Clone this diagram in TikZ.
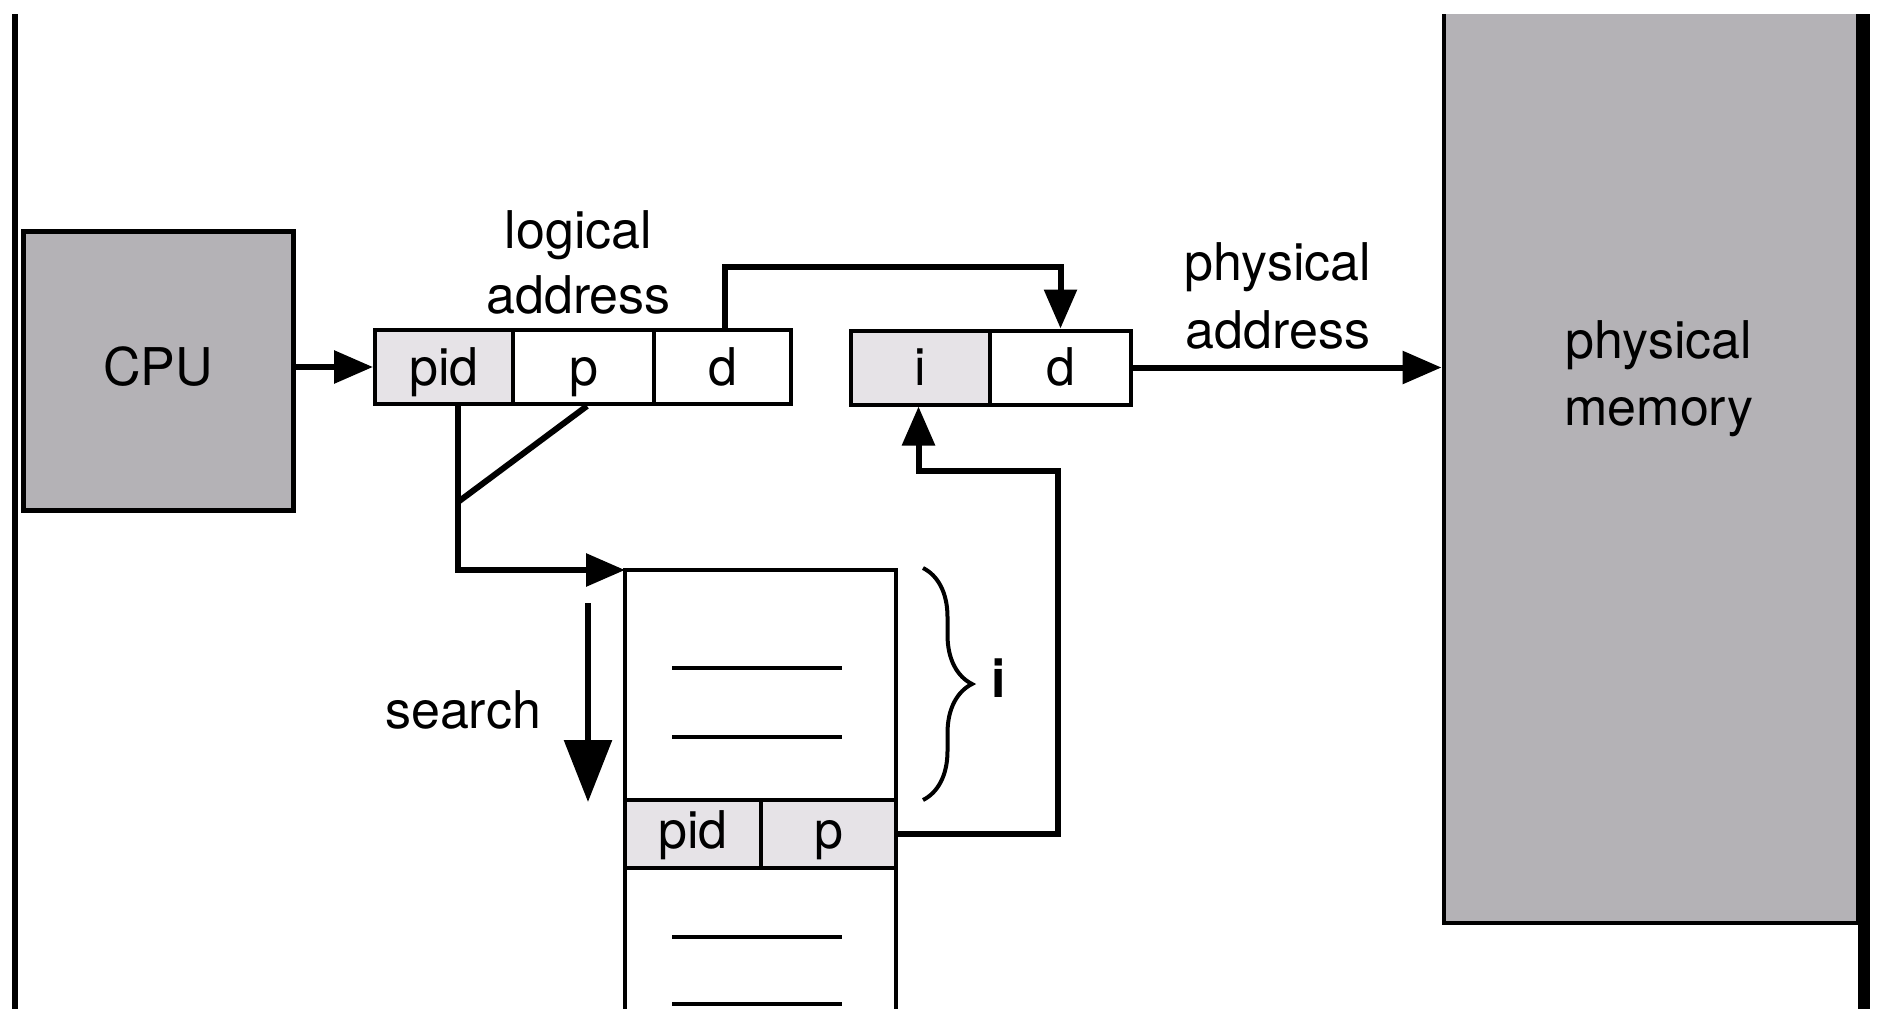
\documentclass[tikz,border=0pt]{standalone}
\usepackage{fontspec}
\setmainfont{TeX Gyre Heros}
\usetikzlibrary{arrows.meta,decorations.pathreplacing,calc}
\definecolor{boxgray}{RGB}{180,178,182}
\definecolor{cellgray}{RGB}{230,227,231}
\begin{document}
\begin{tikzpicture}[x=1pt,y=-1pt,
  every node/.style={font=\fontsize{52}{54}\selectfont, inner sep=0pt},
  bigbox/.style={draw, line width=5pt, fill=boxgray},
  cell/.style={draw, line width=4pt, minimum height=74pt, text height=36pt, text depth=0pt},
  rowcell/.style={draw, line width=4pt, fill=cellgray, minimum height=68pt, text height=28pt, text depth=0pt},
  conn/.style={line width=6pt, -{Triangle[length=39pt,width=32pt]}},
  wire/.style={line width=6pt},
  thin/.style={line width=4pt},
  lbl/.style={anchor=base},
]
\useasboundingbox (0,0) rectangle (1886,1020);

% clipped frame elements
\begin{scope}
  \clip (0,14) rectangle (1886,1008);
  \draw[line width=6.5pt] (15,0) -- (15,1020);
  \node[draw, line width=4pt, fill=boxgray, minimum width=414.5pt, minimum height=943pt] (mem) at (1650.75,451.5) {};
  \draw[line width=12pt] (1864,0) -- (1864,1020);
  % page table
  \coordinate (ttl) at (625,570);
  \coordinate (ttr) at (896,570);
  \draw[thin] (625,1030) -- (ttl) -- (ttr) -- (896,1030);
  \draw[thin] (672,668) -- (842,668);
  \draw[thin] (672,737) -- (842,737);
  \draw[thin] (672,937) -- (842,937);
  \draw[thin] (672,1004) -- (842,1004);
\end{scope}

% CPU
\node[bigbox, minimum width=269.5pt, minimum height=279pt, text height=28pt, text depth=0pt] (cpu) at (158.25,371) {CPU};

% logical address register
\node[cell, fill=cellgray, minimum width=138pt] (lpid) at (444,367) {pid};
\node[cell, minimum width=141pt] (lp) at (583.5,367) {p};
\node[cell, minimum width=137pt] (ld) at (722.5,367) {d};

% physical address register
\node[cell, fill=cellgray, minimum width=139pt] (pi) at (920.5,367.5) {i};
\node[cell, minimum width=141pt] (pd) at (1060.5,367.5) {d};

% table row
\node[rowcell, minimum width=136pt] (tpid) at (693,834) {pid};
\node[rowcell, minimum width=135pt] (tp) at (828.5,834) {p};

% labels
\node[lbl] (logl1) at (578.5,248) {logical};
\node[lbl] (logl2) at (578.5,313) {address};
\node[lbl] (phl1) at (1278,280) {physical};
\node[lbl] (phl2) at (1278,348) {address};
\node[lbl] (meml1) at (1659,358) {physical};
\node[lbl] (meml2) at (1659,425) {memory};
\node[lbl] (srch) at (463,728) {search};
\node[lbl, font=\fontsize{52}{54}\selectfont\bfseries] (ilab) at (999,697) {i};

% connectors
\draw[conn] (cpu.east |- lpid.west) -- (lpid.west);
\draw[conn] ([xshift=2pt]ld.north) |- ([yshift=62pt]pd.north) -- (pd.north);
\draw[conn] (pd.east) -- (pd.east -| mem.west);
\draw[conn] ([xshift=14pt]lpid.south) |- (ttl);
\draw[wire] ([xshift=3.5pt]lp.south) -- ([xshift=14pt,yshift=-96pt]lpid.south);
\coordinate (ic) at ($(pi.south -| pd.south)+(-3,64)$);
\draw[conn] (tp.east) -| (ic) -| ([xshift=-2pt]pi.south);

% search arrow
\coordinate (s1) at (588,603);
\coordinate (s2) at (588,802);
\draw[line width=6pt, -{Triangle[length=62pt,width=47pt]}] (s1) -- (s2);

% brace
\draw[line width=4pt, decorate, decoration={brace, amplitude=49pt}] (923,568) -- (923,800);
\end{tikzpicture}
\end{document}
